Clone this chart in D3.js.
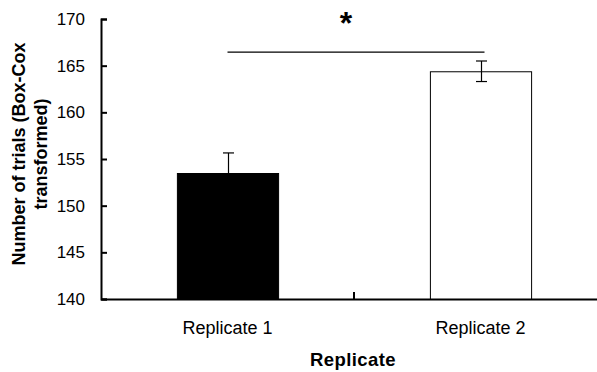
<!DOCTYPE html>
<html>
<head>
<meta charset="utf-8">
<script src="https://cdn.jsdelivr.net/npm/d3@7"></script>
<style>
  body { margin: 0; background: #fff; }
  svg { display: block; font-family: 'Liberation Sans', Arial, sans-serif; }
</style>
</head>
<body>
<div class="chart"></div>
<script>
// data
const categories = ['Replicate 1', 'Replicate 2'];
const means = [153.5, 164.4];
const errors = [2.15, 1.1];
const fills = ['#000000', '#ffffff'];
const yTicks = [140, 145, 150, 155, 160, 165, 170];
const sigLine = { from: 'Replicate 1', to: 'Replicate 2', value: 166.45, label: '*' };

const WIDTH = 597, HEIGHT = 372;
const MARGINS = { top: 19, right: -10, bottom: 73, left: 101 };

const svg = d3.select('.chart')
  .append('svg')
  .attr('width', WIDTH)
  .attr('height', HEIGHT);

const xRange = d3.scaleBand()
  .domain(categories)
  .range([MARGINS.left, WIDTH - MARGINS.right])
  .paddingInner(0.6)
  .paddingOuter(0.3);

const yRange = d3.scaleLinear()
  .domain([140, 170])
  .range([HEIGHT - MARGINS.bottom, MARGINS.top]);

const y0 = yRange(140);

// bars
svg.selectAll('.bar')
  .data(categories)
  .enter()
  .append('rect')
  .attr('class', 'bar')
  .attr('x', d => xRange(d) + 0.5)
  .attr('y', (d, i) => yRange(means[i]) + 0.5)
  .attr('width', xRange.bandwidth())
  .attr('height', (d, i) => y0 - yRange(means[i]))
  .attr('fill', (d, i) => fills[i])
  .attr('stroke', '#000')
  .attr('stroke-width', 1);

// error bars
const cap = 5.5;
categories.forEach((c, i) => {
  const cx = Math.round(xRange(c) + xRange.bandwidth() / 2) + 0.5;
  const top = yRange(means[i] + errors[i]);
  const bot = yRange(means[i] - errors[i]);
  const g = svg.append('g').attr('stroke', '#000').attr('stroke-width', 1.2);
  g.append('line').attr('x1', cx).attr('x2', cx).attr('y1', top).attr('y2', bot);
  g.append('line').attr('x1', cx - cap).attr('x2', cx + cap).attr('y1', top).attr('y2', top);
  g.append('line').attr('x1', cx - cap).attr('x2', cx + cap).attr('y1', bot).attr('y2', bot);
});

// y axis
const yAxis = d3.axisLeft(yRange)
  .tickValues(yTicks)
  .tickSize(-6)
  .tickPadding(16)
  .tickFormat(d3.format('d'));
const yAxisg = svg.append('g')
  .attr('transform', 'translate(' + MARGINS.left + ',0)')
  .call(yAxis);
yAxisg.selectAll('path').attr('stroke', '#000').attr('stroke-width', 2);
yAxisg.selectAll('line').attr('stroke', '#000').attr('stroke-width', 2);
yAxisg.selectAll('.tick text')
  .style('font-size', '17px')
  .style('font-family', "'Liberation Sans', Arial, sans-serif")
  .attr('fill', '#000');

// x axis
const xAxis = d3.axisBottom(xRange).tickSize(0).tickPadding(22);
const xAxisg = svg.append('g')
  .attr('transform', 'translate(0,' + y0 + ')')
  .call(xAxis);
xAxisg.select('.domain').attr('stroke', '#000').attr('stroke-width', 2);
xAxisg.selectAll('.tick text')
  .style('font-size', '18px')
  .style('font-family', "'Liberation Sans', Arial, sans-serif")
  .attr('fill', '#000');

// tick between the two categories
const mid = (xRange(categories[0]) + xRange.bandwidth() + xRange(categories[1])) / 2;
svg.append('line')
  .attr('x1', mid).attr('x2', mid)
  .attr('y1', y0).attr('y2', y0 - 7)
  .attr('stroke', '#000').attr('stroke-width', 2);

// significance bar
const sx1 = xRange(sigLine.from) + xRange.bandwidth() / 2;
const sx2 = xRange(sigLine.to) + xRange.bandwidth() / 2 + 4;
svg.append('line')
  .attr('x1', sx1).attr('x2', sx2)
  .attr('y1', yRange(sigLine.value)).attr('y2', yRange(sigLine.value))
  .attr('stroke', '#000').attr('stroke-width', 1.2);
svg.append('text')
  .text(sigLine.label)
  .attr('x', (sx1 + sx2) / 2 - 10)
  .attr('y', 34)
  .attr('text-anchor', 'middle')
  .style('font-size', '32px')
  .style('font-weight', 'bold');

// axis titles
svg.append('text')
  .text('Replicate')
  .attr('x', 353)
  .attr('y', 366)
  .attr('text-anchor', 'middle')
  .style('font-size', '18.5px')
  .style('font-weight', 'bold')
  .style('letter-spacing', '0.4px');

const yTitle = svg.append('text')
  .attr('transform', 'translate(25,154) rotate(-90)')
  .attr('text-anchor', 'middle')
  .style('font-size', '18px')
  .style('font-weight', 'bold');
yTitle.append('tspan').attr('x', 0).attr('dy', 0).text('Number of trials (Box-Cox');
yTitle.append('tspan').attr('x', 0).attr('dy', 22).text('transformed)');
</script>
</body>
</html>
